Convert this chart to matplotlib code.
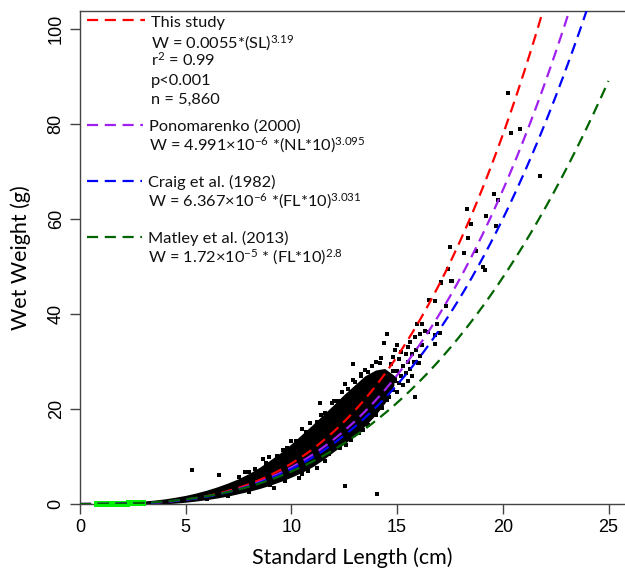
import numpy as np
import matplotlib
matplotlib.use("Agg")
import matplotlib.pyplot as plt

# ---------------- data ----------------
# length-weight models: W = a * (x * scale)^b
model_names = ["This study", "Ponomarenko (2000)", "Craig et al. (1982)", "Matley et al. (2013)"]
model_a = [0.0055, 4.991e-6, 6.367e-6, 1.72e-5]
model_b = [3.19, 3.095, 3.031, 2.8]
model_scale = [1, 10, 10, 10]
model_colors = ["#ff0000", "#a020f0", "#0000ff", "#006400"]

# dense core of observations (envelope of the black cloud)
cloud_x = [3.0, 3.5, 4.0, 4.5, 5.0, 5.5, 6.0, 6.5, 7.0, 7.5, 8.0, 8.5, 9.0, 9.5,
           10.0, 10.5, 11.0, 11.5, 12.0, 12.5, 13.0, 13.5, 14.0, 14.4, 14.8]
cloud_low = [0.05, 0.12, 0.25, 0.4, 0.6, 0.85, 1.15, 1.5, 1.9, 2.4, 2.9, 3.5, 4.2, 5.0,
             5.9, 6.9, 8.1, 9.6, 11.3, 12.9, 14.7, 16.8, 19.2, 21.5, 25.0]
cloud_high = [0.4, 0.6, 0.85, 1.2, 1.6, 2.1, 2.7, 3.4, 4.2, 5.1, 6.2, 7.5, 9.0, 10.6,
              12.4, 14.4, 16.4, 18.5, 20.6, 22.8, 24.8, 26.8, 28.0, 28.3, 27.0]

# individual observations (edges, sparse region and outliers)
obs_x = [5.28, 6.56, 8.64, 8.95, 8.67, 9.18, 10.36, 12.54, 14.03, 10.52, 11.35, 12.54,
         12.93, 13.28, 9.19,
         7.5, 8.0, 8.3, 9.3, 9.8, 10.2, 10.7, 11.2, 11.6, 11.9, 12.2, 12.4, 12.7, 13.0,
         13.3, 13.6, 13.8, 14.0, 7.8, 8.8, 9.6, 10.0, 10.9, 11.4, 12.0, 12.9, 13.5,
         6.0, 7.0, 8.0, 9.0, 9.7, 10.5, 11.2, 11.8, 12.3, 12.8, 13.2, 13.6, 14.0,
         10.8, 11.6, 12.6, 13.4, 14.3, 14.5, 14.9, 14.2,
         14.6, 14.7, 14.7, 14.8, 14.8, 14.9, 14.9, 15.0, 15.0, 15.0, 15.1, 15.1, 15.2,
         15.2, 15.3, 15.3, 15.4, 15.4, 15.5, 15.5, 15.5, 15.6, 15.6, 15.7, 15.7, 15.8,
         15.85, 15.9, 16.0, 16.1, 15.85, 16.2, 16.3, 14.22, 14.51, 14.38, 14.6, 14.8,
         15.96, 16.18, 16.87, 16.48, 16.07, 16.81, 15.89, 16.05, 17.03, 16.8,
         16.49, 16.78, 17.08, 17.58, 17.30, 17.06, 17.53, 17.41, 18.16, 18.75, 19.08,
         19.16, 17.50, 18.37, 18.50, 19.68, 19.22, 18.32, 19.58, 19.77, 21.77, 20.37,
         20.83, 20.26]
obs_y = [7.2, 6.2, 9.5, 10.0, 9.4, 3.4, 5.5, 3.7, 2.2, 15.8, 21.2, 25.3,
         29.4, 27.4, 3.4,
         5.6, 6.8, 7.4, 10.1, 11.8, 13.3, 15.2, 17.2, 19.2, 21.2, 21.6, 23.5, 24.2, 25.6,
         27.0, 27.8, 29.0, 30.0, 6.7, 8.7, 11.3, 13.2, 17.0, 18.8, 21.6, 26.2, 28.3,
         1.0, 1.7, 2.6, 3.9, 4.9, 6.4, 7.6, 10.6, 11.8, 13.4, 14.9, 16.6, 18.8,
         6.9, 9.0, 12.4, 15.6, 20.2, 22.0, 25.8, 29.6,
         22.5, 25.0, 29.5, 24.0, 31.0, 26.5, 32.5, 23.5, 28.0, 33.5, 25.5, 30.5, 27.0,
         32.0, 25.0, 29.0, 27.5, 31.5, 26.0, 30.0, 33.0, 34.2, 28.5, 27.0, 31.5, 30.0,
         35.2, 32.5, 29.6, 31.1, 22.6, 33.5, 36.5, 30.7, 35.7, 33.8, 27.0, 28.0,
         38.0, 38.0, 37.8, 36.3, 35.8, 33.7, 29.9, 29.6, 36.1, 35.6,
         43.0, 42.7, 46.6, 46.9, 41.7, 46.7, 47.0, 49.5, 52.8, 53.3, 49.8,
         49.3, 54.2, 55.9, 58.9, 58.5, 60.6, 62.2, 65.2, 64.1, 69.0, 78.1,
         78.9, 86.5]

# small fish (green points)
small_x = [0.8, 0.9, 1.0, 1.1, 1.2, 1.3, 1.4, 1.5, 1.6, 1.7, 1.8, 1.9, 2.0, 2.1,
           2.2, 2.3, 2.4, 2.5, 2.6, 2.7, 2.8, 2.9, 3.0]
small_y = [0.01, 0.01, 0.02, 0.02, 0.02, 0.03, 0.03, 0.04, 0.05, 0.05, 0.06, 0.07,
           0.08, 0.09, 0.1, 0.11, 0.12, 0.14, 0.16, 0.18, 0.2, 0.22, 0.25]

x_ticks = [0, 5, 10, 15, 20, 25]
y_ticks = [0, 20, 40, 60, 80, 100]

# ---------------- figure ----------------
W, H = 625, 573
fig = plt.figure(figsize=(W / 100, H / 100), dpi=100)
ax = fig.add_axes([80 / W, (H - 504) / H, (W - 80) / W, (504 - 11) / H])

txt_font = "Lato"
plt.rcParams["mathtext.fontset"] = "custom"
plt.rcParams["mathtext.rm"] = txt_font
plt.rcParams["mathtext.default"] = "regular"

ax.fill_between(cloud_x, cloud_low, cloud_high, color="black", linewidth=1.5,
                edgecolor="black", zorder=2)
ax.plot(obs_x, obs_y, "s", color="black", ms=2.8, mew=0, zorder=3)
ax.plot(small_x, small_y, "s", color="#00ee00", ms=4.2, mew=0, zorder=3, clip_on=False)

xs = np.linspace(0, 25, 400)
for a, b, s, c in zip(model_a, model_b, model_scale, model_colors):
    ax.plot(xs, a * (xs * s) ** b, color=c, lw=1.6, ls=(0, (5, 3)), zorder=4)

ax.set_xlim(0, (W - 80) / 21.14)
ax.set_ylim(0, (504 - 11) / 4.75)
ax.spines["right"].set_visible(False)
for sp in ["left", "bottom", "top"]:
    ax.spines[sp].set_color("#444444")
    ax.spines[sp].set_linewidth(1.0)
ax.set_xticks(x_ticks)
ax.set_yticks(y_ticks)
ax.tick_params(direction="out", length=7, width=1.0, color="#444444",
               labelsize=13, pad=4)
for lab in ax.get_xticklabels() + ax.get_yticklabels():
    lab.set_fontfamily("Liberation Sans")
for lab in ax.get_yticklabels():
    lab.set_rotation(90)
    lab.set_va("center")

ax.set_xlabel("Standard Length (cm)", fontsize=15.5, family=txt_font, labelpad=8)
ax.set_ylabel("Wet Weight (g)", fontsize=15.5, family=txt_font, labelpad=12)

# ---------------- legend ----------------
def fy(py):
    return 1 - py / H

def fx(px):
    return px / W

leg_lines = [(20, 87, 145), (125, 87, 143), (181, 87, 142), (237, 87, 142)]
for (py, x0, x1), c in zip(leg_lines, model_colors):
    fig.add_artist(plt.Line2D([fx(x0), fx(x1)], [fy(py), fy(py)], color=c, lw=1.6,
                              ls=(0, (5, 3)), transform=fig.transFigure))

legend_text = [
    (151, 27, "This study"),
    (151, 48, "W = 0.0055*(SL)$^{3.19}$"),
    (151, 66, "r$^{2}$ = 0.99"),
    (151, 85, "p<0.001"),
    (151, 104, "n = 5,860"),
    (149, 131, "Ponomarenko (2000)"),
    (149, 150, "W = 4.991×10$^{-6}$ *(NL*10)$^{3.095}$"),
    (148, 187, "Craig et al. (1982)"),
    (148, 206, "W = 6.367×10$^{-6}$ *(FL*10)$^{3.031}$"),
    (148, 243, "Matley et al. (2013)"),
    (148, 262, "W = 1.72×10$^{-5}$ * (FL*10)$^{2.8}$"),
]
for px, py, t in legend_text:
    fig.text(fx(px), fy(py), t, fontsize=11.8, family=txt_font, va="baseline",
             ha="left", color="#111111")

fig.savefig("out.png", dpi=100)
